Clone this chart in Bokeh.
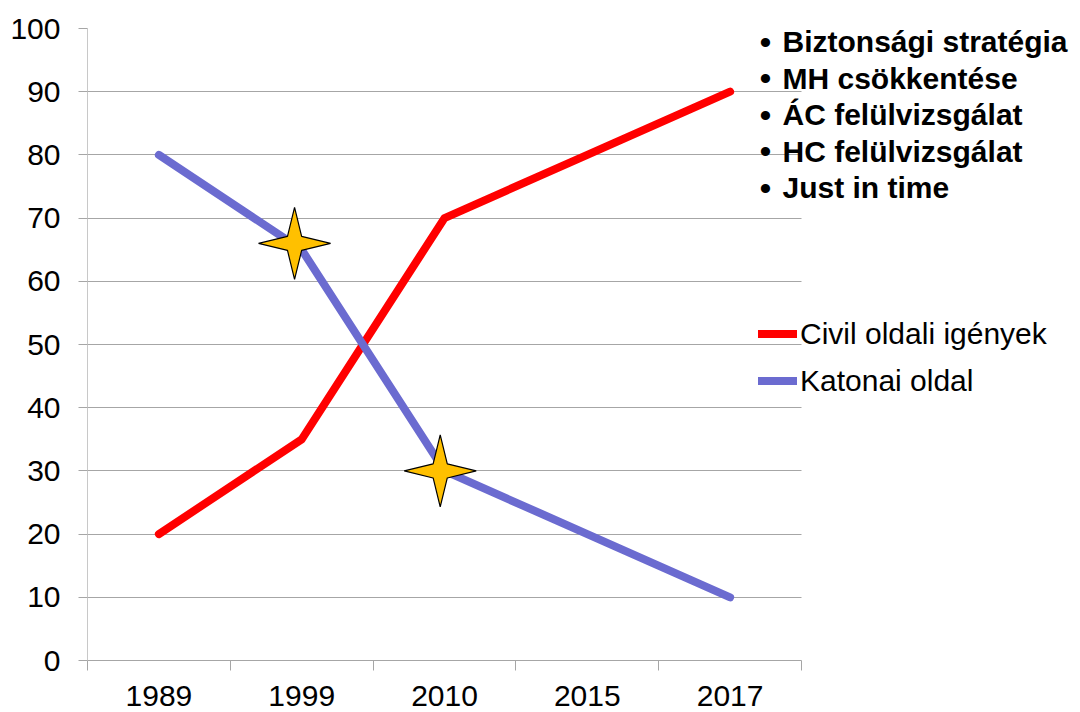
import numpy as np
from bokeh.plotting import figure
from bokeh.models import Range1d, FixedTicker, Legend, LegendItem, Label
from bokeh.embed import file_html
from bokeh.resources import INLINE

# ---- data ----
years = ["1989", "1999", "2010", "2015", "2017"]
civil = [20, 35, 70, 80, 90]
katonai = [80, 65, 30, 20, 10]
star_x = [1.45, 2.47]      # position along the category axis (category units)
star_y = [66, 30]
bullets = ["Biztonsági stratégia", "MH csökkentése", "ÁC felülvizsgálat",
           "HC felülvizsgálat", "Just in time"]
legend_labels = ["Civil oldali igények", "Katonai oldal"]

# ---- layout ----
W, H = 1080, 712
FL, FT = 87, 28
CAT_W = 142.8                 # pixels per category
FH = 632
FW = W - FL                   # frame spans to the right edge; chart part is 5 categories
FONT = "Liberation Sans"
RED = "#FF0000"
BLUE = "#6B6BD0"
GRID = "#A6A6A6"

n = len(years)
xc = [i + 0.5 for i in range(n)]

p = figure(width=W, height=H, output_backend="svg", toolbar_location=None,
           x_range=Range1d(0, FW / CAT_W), y_range=Range1d(0, 100),
           min_border_left=FL, min_border_top=FT,
           min_border_right=0, min_border_bottom=H - FT - FH)
p.outline_line_color = None
p.background_fill_color = "white"
p.border_fill_color = "white"

# axes
p.xaxis.bounds = (0, n)
p.xaxis.ticker = FixedTicker(ticks=xc, minor_ticks=list(range(n + 1)))
p.xaxis.major_label_overrides = {x: y for x, y in zip(xc, years)}
p.xaxis.major_tick_line_color = None
p.xaxis.major_tick_out = 0
p.xaxis.major_tick_in = 0
p.xaxis.minor_tick_line_color = GRID
p.xaxis.minor_tick_out = 10
p.xaxis.minor_tick_in = 0
p.xaxis.axis_line_color = GRID
p.xaxis.major_label_standoff = 15
p.xaxis.major_label_text_font = FONT
p.xaxis.major_label_text_font_size = "30px"
p.xaxis.major_label_text_color = "black"
p.xgrid.visible = False

p.yaxis.ticker = FixedTicker(ticks=list(range(0, 101, 10)))
p.yaxis.axis_line_color = "#C8C8C8"
p.yaxis.major_tick_line_color = GRID
p.yaxis.major_tick_out = 9
p.yaxis.major_tick_in = 0
p.yaxis.minor_tick_line_color = None
p.yaxis.major_label_standoff = 18
p.yaxis.major_label_text_font = FONT
p.yaxis.major_label_text_font_size = "30px"
p.yaxis.major_label_text_color = "black"
p.ygrid.grid_line_color = GRID
p.ygrid.grid_line_width = 1
p.ygrid.cross_bounds = (0, n)

# lines
r_civil = p.line(xc, civil, line_color=RED, line_width=8, line_cap="round", line_join="round")
r_kat = p.line(xc, katonai, line_color=BLUE, line_width=8, line_cap="round", line_join="round")

# four-pointed stars (size in screen pixels converted to data units)
px_y = FH / 100.0
R_out, R_in = 36, 10
sxs, sys_ = [], []
for cx, cy in zip(star_x, star_y):
    xs, ys = [], []
    for k in range(8):
        ang = np.pi / 2 + k * np.pi / 4
        rad = R_out if k % 2 == 0 else R_in
        xs.append(cx + rad * np.cos(ang) / CAT_W)
        ys.append(cy + rad * np.sin(ang) / px_y)
    sxs.append(xs)
    sys_.append(ys)
p.patches(sxs, sys_, fill_color="#FFC000", line_color="black", line_width=1.2)

# legend (screen position relative to the frame's bottom-left)
legend = Legend(items=[LegendItem(label=legend_labels[0], renderers=[r_civil]),
                       LegendItem(label=legend_labels[1], renderers=[r_kat])],
                location=(758 - FL, 660 - 404), orientation="vertical",
                glyph_width=39, glyph_height=47, label_height=47, spacing=0,
                label_standoff=3, padding=0, margin=0,
                border_line_color=None, background_fill_alpha=0,
                label_text_font=FONT, label_text_font_size="30px",
                label_text_color="black")
p.add_layout(legend)

# bullet list (screen position relative to the frame's bottom-left)
for i, b in enumerate(bullets):
    yy = (FT + FH) - (41 + i * 36.5)
    p.add_layout(Label(x=765 - FL, y=yy, x_units="screen", y_units="screen",
                       text="•", text_font=FONT, text_font_size="34px",
                       text_color="black", text_baseline="middle", text_align="center"))
    p.add_layout(Label(x=782 - FL, y=yy, x_units="screen", y_units="screen",
                       text=b, text_font=FONT, text_font_size="30px",
                       text_font_style="bold", text_color="black",
                       text_baseline="middle", text_align="left"))

open("out.html", "w").write(file_html(p, INLINE))
